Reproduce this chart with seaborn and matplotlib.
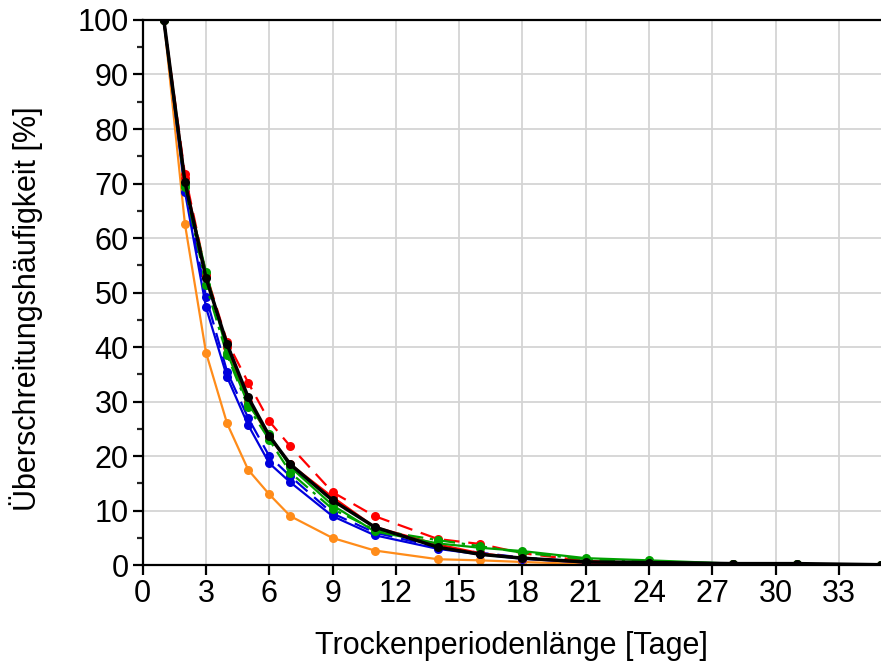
import matplotlib
matplotlib.use('Agg')
import matplotlib.pyplot as plt
from matplotlib.ticker import MultipleLocator
import seaborn as sns

# Trockenperiodenlänge [Tage] und Überschreitungshäufigkeit [%] je Reihe
tage = [1, 2, 3, 4, 5, 6, 7, 9, 11, 14, 16, 18, 21, 24, 28, 31, 35, 40]

orange = [100, 62.6, 39.0, 26.0, 17.5, 13.0, 9.0, 5.0, 2.7, 1.1, 0.9, 0.6, 0.2, 0.1, 0, 0, 0, 0]
blau = [100, 68.5, 47.3, 34.5, 25.7, 18.7, 15.2, 9.0, 5.5, 3.0, 2.0, 1.2, 0.5, 0.3, 0.1, 0.1, 0, 0]
blau_gestr = [100, 69.5, 49.2, 35.5, 27.0, 20.0, 16.3, 9.5, 6.0, 3.3, 2.3, 1.4, 0.6, 0.3, 0.2, 0.1, 0.05, 0]
rot = [100, 71.0, 53.0, 40.0, 30.0, 23.5, 18.5, 12.5, 7.0, 3.8, 2.2, 1.3, 0.5, 0.3, 0.2, 0.1, 0, 0]
rot_gestr = [100, 71.7, 53.5, 41.0, 33.5, 26.4, 21.8, 13.4, 9.0, 4.8, 3.9, 2.2, 0.8, 0.4, 0.3, 0.2, 0.1, 0]
gruen = [100, 70.0, 53.8, 39.0, 29.5, 24.0, 18.0, 11.0, 6.2, 4.0, 3.2, 2.6, 1.3, 0.9, 0.3, 0.2, 0.1, 0]
gruen_strichp = [100, 69.4, 51.4, 38.5, 29.0, 23.0, 17.0, 10.3, 6.5, 4.6, 3.5, 2.3, 1.1, 0.7, 0.3, 0.2, 0.1, 0]
schwarz = [100, 70.3, 52.7, 40.5, 30.8, 23.7, 18.5, 11.9, 7.0, 3.3, 2.0, 1.3, 0.6, 0.5, 0.3, 0.3, 0.1, 0]

sns.set_style('white')
plt.rcParams['font.family'] = ['Liberation Sans', 'DejaVu Sans']
plt.rcParams['text.color'] = 'black'
plt.rcParams['axes.labelcolor'] = 'black'

fig = plt.figure(figsize=(8.81, 6.65), dpi=100)
ax = fig.add_axes([0.162, 0.150, 0.838, 0.820])

reihen = [
    (orange, '#ff8c1a', '-', 1.6),
    (blau, '#0000dd', '-', 1.6),
    (blau_gestr, '#0000dd', (0, (7, 4)), 1.6),
    (rot, '#ff0000', '-', 1.6),
    (rot_gestr, '#ff0000', (0, (7, 4)), 1.6),
    (gruen, '#00a000', '-', 1.6),
    (gruen_strichp, '#00a000', (0, (7, 3, 1.5, 3)), 1.6),
    (schwarz, '#000000', '-', 2.5),
]
for werte, farbe, stil, lw in reihen:
    sns.lineplot(x=tage, y=werte, ax=ax, color=farbe, linestyle=stil, linewidth=lw,
                 marker='o', markersize=6.5, markeredgewidth=0, clip_on=True)

ax.set_xlim(0, 35)
ax.set_ylim(0, 100)
ax.xaxis.set_major_locator(MultipleLocator(3))
ax.yaxis.set_major_locator(MultipleLocator(10))
ax.yaxis.set_minor_locator(MultipleLocator(5))
ax.grid(True, which='major', color='#d4d4d4', linewidth=1.3)
ax.set_axisbelow(True)

for s in ['left', 'bottom', 'top']:
    ax.spines[s].set_color('black')
    ax.spines[s].set_linewidth(1.6)
ax.spines['right'].set_visible(False)

ax.tick_params(axis='both', which='major', direction='out', length=7, width=1.6,
               labelsize=22, colors='black', left=True, bottom=True, pad=3)
ax.tick_params(axis='y', which='minor', direction='out', length=4, width=1.6, left=True)

ax.set_xlabel('Trockenperiodenlänge [Tage]', fontsize=22, labelpad=16)
ax.set_ylabel('Überschreitungshäufigkeit [%]', fontsize=22)
ax.yaxis.set_label_coords(-0.135, 0.47)

fig.savefig('out.png', dpi=100)
